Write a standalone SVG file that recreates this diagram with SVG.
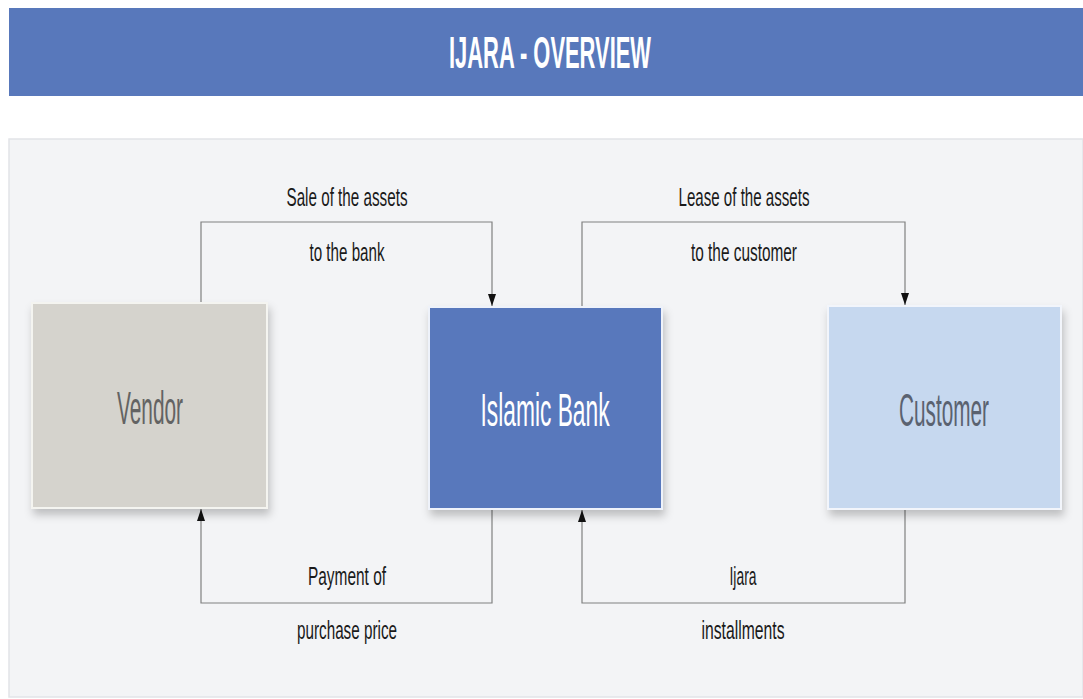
<svg xmlns="http://www.w3.org/2000/svg" width="1083" height="699" viewBox="0 0 1083 699">
<style>
.lbl{font-family:"Liberation Sans",Arial,sans-serif;font-size:25px;fill:#1a1a1a;text-anchor:middle}
.node-t{font-family:"Liberation Sans",Arial,sans-serif;font-size:46px;text-anchor:middle}
.conn{fill:none;stroke:#808080;stroke-width:1.2}
</style>
<defs>
<filter id="sh" x="-10%" y="-10%" width="125%" height="130%">
<feDropShadow dx="2" dy="6" stdDeviation="4" flood-color="#000" flood-opacity="0.22"/>
</filter>
<marker id="arr" markerWidth="12" markerHeight="8" refX="12" refY="4" orient="auto" markerUnits="userSpaceOnUse" viewBox="0 0 12 8">
<path d="M0,0 L12,4 L0,8 Z" fill="#111"/>
</marker>
</defs>
<rect x="0" y="0" width="1083" height="699" fill="#ffffff"/>
<g id="header">
<rect x="9" y="8" width="1074" height="88" fill="#5878BB"/>
<text x="550" y="68" font-family="'Liberation Sans',Arial,sans-serif" font-size="44" font-weight="bold" fill="#ffffff" text-anchor="middle" textLength="202" lengthAdjust="spacingAndGlyphs">IJARA - OVERVIEW</text>
</g>
<rect x="9" y="139" width="1074" height="558" fill="#F3F4F6" stroke="#E2E4E8" stroke-width="1.5"/>
<g id="connectors">
<path class="conn" d="M201,303 V222 H492 V306" marker-end="url(#arr)"/>
<path class="conn" d="M582,307 V222 H905 V305" marker-end="url(#arr)"/>
<path class="conn" d="M492,509 V603 H201 V509" marker-end="url(#arr)"/>
<path class="conn" d="M905,509 V603 H582 V510" marker-end="url(#arr)"/>
<text class="lbl" x="347" y="206" textLength="121" lengthAdjust="spacingAndGlyphs">Sale of the assets</text>
<text class="lbl" x="347" y="261" textLength="75" lengthAdjust="spacingAndGlyphs">to the bank</text>
<text class="lbl" x="744" y="206" textLength="131" lengthAdjust="spacingAndGlyphs">Lease of the assets</text>
<text class="lbl" x="744" y="261" textLength="106" lengthAdjust="spacingAndGlyphs">to the customer</text>
<text class="lbl" x="347" y="585" textLength="78" lengthAdjust="spacingAndGlyphs">Payment of</text>
<text class="lbl" x="347" y="639" textLength="100" lengthAdjust="spacingAndGlyphs">purchase price</text>
<text class="lbl" x="743" y="585" textLength="27" lengthAdjust="spacingAndGlyphs">Ijara</text>
<text class="lbl" x="743" y="639" textLength="83" lengthAdjust="spacingAndGlyphs">installments</text>
</g>
<g id="vendor">
<rect x="32" y="303" width="235" height="205" fill="#D5D3CD" stroke="#f4f4f0" stroke-width="2" filter="url(#sh)"/>
<text class="node-t" transform="translate(150 424) scale(0.45 1)" x="0" y="0" fill="#636363" textLength="146.7" lengthAdjust="spacingAndGlyphs">Vendor</text>
</g>
<g id="islamic-bank">
<rect x="429" y="307" width="233" height="202" fill="#5878BC" stroke="#eef2fa" stroke-width="2" filter="url(#sh)"/>
<text class="node-t" transform="translate(545 426) scale(0.45 1)" x="0" y="0" fill="#ffffff" textLength="286.7" lengthAdjust="spacingAndGlyphs">Islamic Bank</text>
</g>
<g id="customer">
<rect x="828" y="306" width="233" height="203" fill="#C6D8EF" stroke="#f2f5fb" stroke-width="2" filter="url(#sh)"/>
<text class="node-t" transform="translate(944 426) scale(0.45 1)" x="0" y="0" fill="#5A6270" textLength="200" lengthAdjust="spacingAndGlyphs">Customer</text>
</g>
</svg>
